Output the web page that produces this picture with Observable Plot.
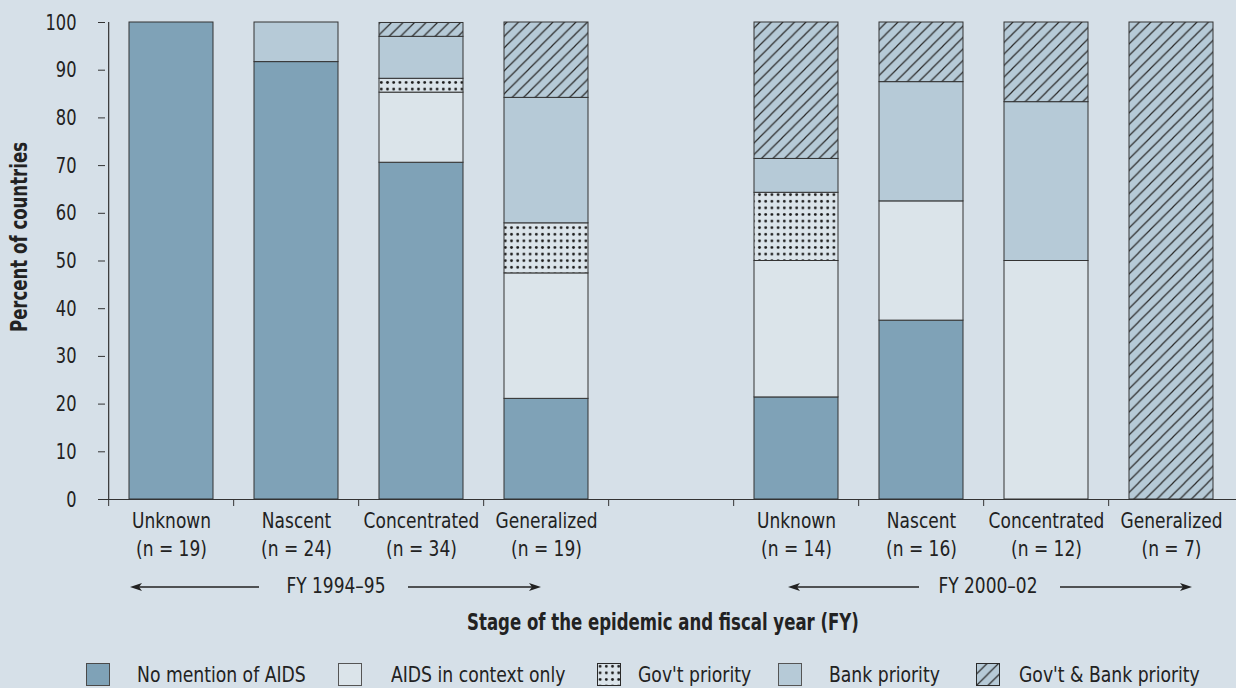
<!DOCTYPE html>
<html>
<head>
<meta charset="utf-8">
<script src="https://cdn.jsdelivr.net/npm/d3@7"></script>
<script src="https://cdn.jsdelivr.net/npm/@observablehq/plot@0.6"></script>
<style>
  html, body { margin: 0; padding: 0; background: #d6e0e8; }
  body { width: 1236px; height: 688px; overflow: hidden; font-family: 'DejaVu Sans Condensed', 'DejaVu Sans', sans-serif; color: #222; }
  #legend { position: relative; height: 38px; font-size: 22px; }
  #legend .sw { position: absolute; top: 13px; width: 24px; height: 23px; }
  #legend .lb { position: absolute; top: 13px; line-height: 24px; white-space: nowrap; transform: scaleX(0.87); transform-origin: 0 50%; }
</style>
</head>
<body>
<div id="chart"></div>
<div id="legend"></div>
<script>
// ---- data ----
const stages = ["Unknown", "Nascent", "Concentrated", "Generalized"];
const periods = ["FY 1994–95", "FY 2000–02"];
const counts1994 = [19, 24, 34, 19];
const counts2000 = [14, 16, 12, 7];
const series = ["No mention of AIDS", "AIDS in context only", "Gov't priority", "Bank priority", "Gov't & Bank priority"];
// percent of countries, per bar: 1994 Unknown..Generalized, then 2000 Unknown..Generalized
const noMention       = [100, 91.7, 70.6, 21.1, 21.4, 37.5, 0, 0];
const contextOnly     = [0, 0, 14.7, 26.3, 28.6, 25.0, 50.0, 0];
const govPriority     = [0, 0, 2.9, 10.5, 14.3, 0, 0, 0];
const bankPriority    = [0, 8.3, 8.8, 26.3, 7.1, 25.0, 33.3, 0];
const govBankPriority = [0, 0, 2.9, 15.8, 28.6, 12.5, 16.7, 100];
const yTicks = [0, 10, 20, 30, 40, 50, 60, 70, 80, 90, 100];

// ---- build table ----
const seriesValues = [noMention, contextOnly, govPriority, bankPriority, govBankPriority];
const counts = [counts1994, counts2000];
const keys = [];
const labelOf = {};
periods.forEach((p, pi) => {
  stages.forEach((s, si) => {
    const k = pi + "-" + s;
    keys.push(k);
    labelOf[k] = s + "\n(n = " + counts[pi][si] + ")";
  });
  if (pi === 0) keys.push("gap");
});
labelOf["gap"] = "";
const rows = [];
periods.forEach((p, pi) => stages.forEach((s, si) => {
  const i = pi * 4 + si;
  series.forEach((name, j) => {
    const v = seriesValues[j][i];
    if (v > 0) rows.push({key: pi + "-" + s, series: name, value: v});
  });
}));

const colNoMention = "#7fa2b7";
const colContext = "#dbe4ea";
const colBank = "#b6cad7";
const fills = [colNoMention, colContext, "url(#dots)", colBank, "url(#hatch)"];
const strokes = ["#4a4a4a", "#555", "#2a2a2a", "#555", "#2a2a2a"];

const W = 1236, H = 650, mL = 105, mR = 0, mT = 22, mB = 151;
const step = (W - mL - mR) / keys.length;
const FONT = "'DejaVu Sans Condensed', 'DejaVu Sans', sans-serif";

function defs() {
  const g = d3.create("svg:g");
  const d = g.append("defs");
  const dots = d.append("pattern").attr("id", "dots").attr("patternUnits", "userSpaceOnUse")
    .attr("width", 6.2).attr("height", 6.6);
  dots.append("rect").attr("width", 6.2).attr("height", 6.6).attr("fill", colContext);
  dots.append("circle").attr("cx", 3.1).attr("cy", 3.3).attr("r", 1.4).attr("fill", "#1e1e1e");
  const h = d.append("pattern").attr("id", "hatch").attr("patternUnits", "userSpaceOnUse")
    .attr("width", 11.5).attr("height", 11.5);
  h.append("rect").attr("width", 11.5).attr("height", 11.5).attr("fill", colBank);
  h.append("path").attr("d", "M-2,13.5 L13.5,-2 M-2,2 L2,-2 M9.5,13.5 L13.5,9.5")
    .attr("stroke", "#2a2a2a").attr("stroke-width", 1.2);
  return g.node();
}

function annotations(index, scales, values, dims) {
  const x = scales.x;
  const bw = x.bandwidth();
  const c = k => x(k) + bw / 2;
  const y = dims.height - dims.marginBottom + 88;
  const g = d3.create("svg:g").attr("fill", "#222").attr("stroke", "none");
  const groups = [
    {label: periods[0], tipL: x("0-Unknown") + 1, tailL: c("0-Nascent") - 37, tx: c("0-Nascent") + 40, tailR: c("0-Concentrated") - 13, tipR: c("0-Generalized") - 5},
    {label: periods[1], tipL: c("1-Unknown") - 8, tailL: c("1-Nascent") - 2, tx: c("1-Nascent") + 67, tailR: c("1-Concentrated") + 14, tipR: c("1-Generalized") + 21}
  ];
  for (const gr of groups) {
    g.append("line").attr("x1", gr.tipL + 6).attr("x2", gr.tailL).attr("y1", y).attr("y2", y)
      .attr("stroke", "#222").attr("stroke-width", 1.4);
    g.append("path").attr("d", `M${gr.tipL},${y} L${gr.tipL + 12},${y - 4} L${gr.tipL + 9},${y} L${gr.tipL + 12},${y + 4} Z`);
    g.append("line").attr("x1", gr.tailR).attr("x2", gr.tipR - 6).attr("y1", y).attr("y2", y)
      .attr("stroke", "#222").attr("stroke-width", 1.4);
    g.append("path").attr("d", `M${gr.tipR},${y} L${gr.tipR - 12},${y - 4} L${gr.tipR - 9},${y} L${gr.tipR - 12},${y + 4} Z`);
    g.append("text").attr("x", gr.tx).attr("y", y + 6).attr("text-anchor", "middle")
      .attr("font-size", 22).text(gr.label);
  }
  return g.node();
}

const plot = Plot.plot({
  width: W, height: H,
  marginLeft: mL, marginRight: mR, marginTop: mT, marginBottom: mB,
  style: {background: "transparent", fontFamily: FONT, fontSize: "22px", color: "#222", overflow: "visible"},
  x: {domain: keys, paddingInner: 0.33, paddingOuter: 0.165, axis: null},
  y: {domain: [0, 100], axis: null},
  color: {type: "ordinal", domain: series, range: fills},
  marks: [
    defs,
    Plot.barY(rows, {x: "key", y: "value", fill: "series", stroke: "#333", strokeWidth: 1}),
    Plot.ruleY([0], {stroke: "#333", strokeWidth: 1.2}),
    Plot.ruleX([keys[0]], {y1: 0, y2: 100, dx: -step / 2, stroke: "#333", strokeWidth: 1.2}),
    Plot.axisY({ticks: yTicks, tickSize: 7, tickPadding: 22, label: null, stroke: "#333"}),
    Plot.axisX({tickSize: 7, tickFormat: () => "", dx: -step / 2, label: null, stroke: "#333"}),
    Plot.axisX({tickSize: 0, tickPadding: 9, tickFormat: k => labelOf[k], lineHeight: 1.27, label: null}),
    Plot.text(["Percent of countries"], {text: d => d, frameAnchor: "left", textAnchor: "middle", rotate: -90, dx: -86, dy: -24, fontWeight: "bold", fontSize: 23, lineAnchor: "middle"}),
    Plot.text(["Stage of the epidemic and fiscal year (FY)"], {text: d => d, frameAnchor: "bottom", textAnchor: "middle", dx: -8, dy: 123, fontWeight: "bold", fontSize: 23, lineAnchor: "middle"}),
    annotations
  ]
});
document.getElementById("chart").appendChild(plot);

// condense the text horizontally to match the narrow typeface of the original
function condense(el, f) {
  const len = el.getComputedTextLength();
  if (len > 0) {
    el.setAttribute("textLength", (len * f).toFixed(1));
    el.setAttribute("lengthAdjust", "spacingAndGlyphs");
  }
}
d3.select(plot).selectAll("text").each(function() {
  const bold = +getComputedStyle(this).fontWeight >= 600;
  const isY = !!this.closest('[aria-label="y-axis tick label"]');
  const f = bold ? 0.8 : isY ? 0.82 : 0.86;
  const spans = this.querySelectorAll("tspan");
  if (spans.length) spans.forEach(s => condense(s, f));
  else condense(this, f);
});

// ---- legend ----
const legend = d3.select("#legend");
const swLeft = [86, 338, 597, 778, 976];
const lbLeft = [137, 391, 638, 829, 1019];
series.forEach((name, i) => {
  const s = legend.append("svg").attr("class", "sw").style("left", swLeft[i] + "px")
    .attr("width", 24).attr("height", 23);
  s.append("rect").attr("x", 0.5).attr("y", 0.5).attr("width", 23).attr("height", 22)
    .attr("fill", fills[i]).attr("stroke", strokes[i]).attr("stroke-width", 1);
  legend.append("div").attr("class", "lb").style("left", lbLeft[i] + "px").text(name);
});
</script>
</body>
</html>
